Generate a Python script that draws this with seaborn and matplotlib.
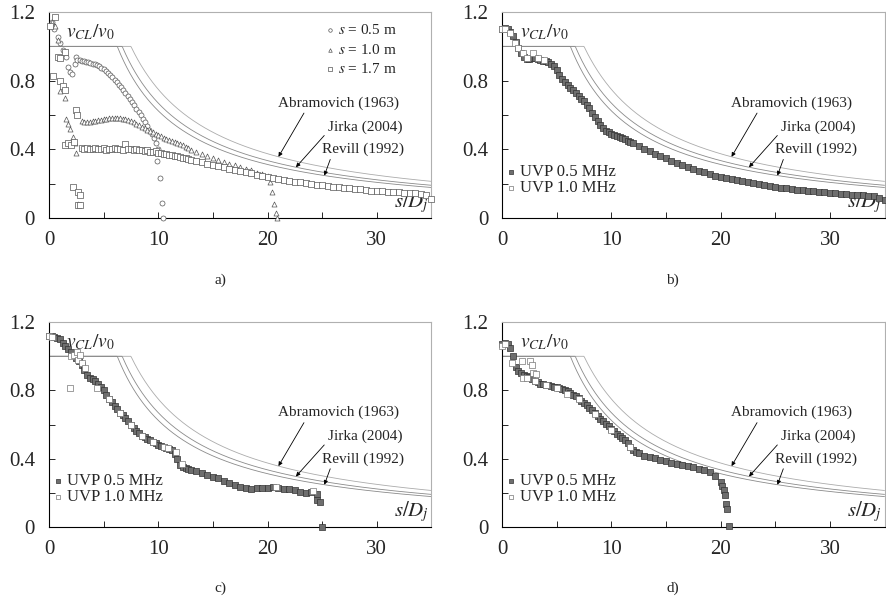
import numpy as np
import matplotlib
matplotlib.use('Agg')
import matplotlib.pyplot as plt
import seaborn as sns

# ---- theory curves (v/v0 = min(1, K / (s/Dj)), K) ----
theory_names = ['Abramovich (1963)', 'Jirka (2004)', 'Revill (1992)']
theory_k = [7.5, 6.7, 6.25]

# ---- panel a: three distances, open markers ----
a05_near_x = [0.25, 0.5, 0.85, 1.0, 1.3, 1.6, 1.77, 1.9, 2.07, 2.4, 2.5]
a05_near_y = [1.14, 1.10, 1.056, 1.017, 0.98, 0.94, 0.88, 0.85, 0.84, 0.90, 0.94]
a05_band_y = [0.92, 0.92, 0.915, 0.912, 0.91, 0.908, 0.905, 0.90, 0.895, 0.89, 0.885,
              0.877, 0.868, 0.857, 0.846, 0.834, 0.82, 0.806, 0.792, 0.778, 0.762,
              0.746, 0.73, 0.713, 0.695, 0.676, 0.657, 0.638, 0.618, 0.598, 0.578,
              0.557, 0.535, 0.512, 0.49, 0.465, 0.44]          # s/Dj 2.6 .. 9.8
a05_tail_x = [9.85, 10.0, 10.15, 10.3, 10.4]
a05_tail_y = [0.33, 0.40, 0.235, 0.09, 0.0]

a10_near_x = [0.3, 0.55, 0.8, 1.0, 1.45, 1.6, 1.75, 1.9, 2.2, 2.4, 2.5, 2.7]
a10_near_y = [1.14, 1.12, 1.04, 0.74, 0.70, 0.58, 0.55, 0.52, 0.47, 0.44, 0.38, 0.08]
a10_dense_y = [0.565, 0.562, 0.56, 0.562, 0.565, 0.568, 0.57, 0.572, 0.575, 0.579,
               0.582, 0.584, 0.585, 0.584, 0.583, 0.58, 0.577, 0.572, 0.566, 0.558,
               0.55, 0.541, 0.532, 0.523, 0.515, 0.507, 0.50, 0.492, 0.484, 0.476,
               0.468, 0.461, 0.455, 0.449, 0.443, 0.437, 0.43, 0.423, 0.415, 0.406,
               0.398]                                         # s/Dj 3.0 .. 13.0
a10_band_y = [0.385, 0.372, 0.36, 0.35, 0.338, 0.327, 0.317, 0.307, 0.297, 0.287,
              0.278, 0.265, 0.255, 0.245]                     # s/Dj 13.5 .. 20.0
a10_tail_x = [20.2, 20.4, 20.6, 20.8, 20.9]
a10_tail_y = [0.21, 0.15, 0.08, 0.03, 0.0]

a17_near_x = [0.1, 0.55, 0.4, 0.85, 1.0, 1.5, 1.0, 1.3, 1.46, 2.5, 2.55, 1.5, 1.77,
              2.0, 2.3, 2.2, 2.7, 2.8, 2.65, 2.85]
a17_near_y = [1.12, 1.17, 0.83, 0.94, 0.93, 0.97, 0.80, 0.77, 0.745, 0.63, 0.60,
              0.425, 0.435, 0.425, 0.445, 0.18, 0.153, 0.135, 0.075, 0.075]
a17_dense_y = [0.41, 0.405, 0.41, 0.40, 0.405, 0.41, 0.40, 0.405, 0.41, 0.398,
               0.405, 0.40, 0.41, 0.402, 0.405, 0.398, 0.43, 0.40, 0.405, 0.398,
               0.40, 0.395, 0.398, 0.39, 0.395, 0.388, 0.385, 0.39, 0.38, 0.378,
               0.375, 0.372, 0.37, 0.366, 0.363, 0.36, 0.356, 0.353, 0.35, 0.344,
               0.338]                                         # s/Dj 3.0 .. 13.0
a17_band_y = [0.332, 0.325, 0.318, 0.31, 0.303, 0.296, 0.289, 0.282, 0.275, 0.268,
              0.261, 0.254, 0.247, 0.24, 0.234, 0.228, 0.223, 0.218, 0.213, 0.208,
              0.203, 0.199, 0.195, 0.191, 0.187, 0.183, 0.179, 0.176, 0.173, 0.17,
              0.167, 0.164, 0.161, 0.158, 0.156, 0.154, 0.152, 0.15, 0.148, 0.146,
              0.144, 0.14, 0.132, 0.11]                       # s/Dj 13.5 .. 35.0

# ---- panel b ----
b05_near_x = [0.0, 0.25]
b05_near_y = [1.10, 1.105]
b05_dense_y = [1.10, 1.085, 1.06, 1.025, 0.99, 0.96, 0.94, 0.925, 0.925, 0.93,
               0.93, 0.926, 0.922, 0.917, 0.912, 0.907, 0.90, 0.885, 0.86, 0.835,
               0.81, 0.792, 0.775, 0.76, 0.745, 0.728, 0.712, 0.696, 0.68, 0.66,
               0.64, 0.615, 0.59, 0.565, 0.54, 0.522, 0.51, 0.50, 0.49, 0.483,
               0.477, 0.472, 0.466, 0.459, 0.452, 0.445, 0.437]   # 0.5 .. 12.0
b05_band_y = [0.422, 0.405, 0.39, 0.375, 0.362, 0.348, 0.335, 0.322, 0.31, 0.298,
              0.287, 0.277, 0.267, 0.256, 0.246, 0.237, 0.232, 0.226, 0.22, 0.214,
              0.208, 0.202, 0.197, 0.192, 0.187, 0.182, 0.177, 0.173, 0.169, 0.165,
              0.162, 0.159, 0.156, 0.153, 0.15, 0.147, 0.144, 0.141, 0.139, 0.137,
              0.135, 0.133, 0.131, 0.128, 0.12, 0.105]            # 12.5 .. 35
b10_x = [0.0, 0.3, 0.7, 1.2, 1.46, 1.9, 2.3, 2.8, 3.3, 3.8]
b10_y = [1.10, 1.10, 1.08, 1.02, 0.99, 0.96, 0.93, 0.96, 0.93, 0.92]

# ---- panel c ----
c05_dense_y = [1.118, 1.118, 1.115, 1.11, 1.10, 1.08, 1.06, 1.045, 1.025, 1.01,
               0.99, 0.97, 0.95, 0.92, 0.89, 0.875, 0.865, 0.853, 0.84, 0.82,
               0.80, 0.775, 0.75, 0.73, 0.71, 0.69, 0.67, 0.655, 0.64, 0.62,
               0.60, 0.582, 0.565, 0.55, 0.535, 0.525, 0.515, 0.507, 0.50, 0.492,
               0.483, 0.476, 0.47, 0.465, 0.46, 0.45, 0.43, 0.40, 0.365, 0.352,
               0.345, 0.34, 0.335]                                 # 0 .. 13.0
c05_band_y = [0.327, 0.318, 0.305, 0.295, 0.285, 0.272, 0.26, 0.245, 0.232, 0.226,
              0.225, 0.226, 0.226, 0.228, 0.232, 0.23, 0.225, 0.222, 0.215, 0.208,
              0.20, 0.205, 0.195]                                  # 13.5 .. 24.5
c05_tail_x = [24.55, 24.8, 25.0]
c05_tail_y = [0.16, 0.145, 0.0]
c10_x = [0.0, 0.3, 1.9, 2.0, 2.3, 2.6, 2.7, 2.8, 3.0, 3.3, 4.4, 5.5, 6.5, 7.5,
         8.5, 9.5, 10.5, 10.9, 11.6, 12.2, 20.8, 24.2]
c10_y = [1.118, 1.115, 0.817, 1.00, 1.01, 1.027, 0.98, 1.01, 0.96, 0.93, 0.817,
         0.75, 0.67, 0.60, 0.535, 0.50, 0.47, 0.464, 0.44, 0.37, 0.235, 0.21]

# ---- panel d ----
d05_dense_y = [1.07, 1.075, 1.07, 1.05, 1.00, 0.94, 0.915, 0.90, 0.893, 0.884,
               0.876, 0.866, 0.856, 0.848, 0.84, 0.836, 0.832, 0.829, 0.826, 0.822,
               0.818, 0.814, 0.81, 0.803, 0.795, 0.785, 0.775, 0.765, 0.755, 0.74,
               0.725, 0.712, 0.70, 0.685, 0.67, 0.652, 0.635, 0.62, 0.605, 0.59,
               0.575, 0.56, 0.546, 0.533, 0.52, 0.507, 0.493, 0.47, 0.45, 0.44,
               0.432]                                              # 0 .. 12.5
d05_band_y = [0.418, 0.41, 0.402, 0.392, 0.384, 0.377, 0.37, 0.362, 0.356, 0.35,
              0.342, 0.332, 0.32, 0.30, 0.265]                     # 13.0 .. 20.0
d05_tail_x = [20.15, 20.3, 20.4, 20.5, 20.6, 20.8]
d05_tail_y = [0.24, 0.215, 0.19, 0.138, 0.103, 0.005]
d10_x = [0.0, 0.3, 0.9, 1.8, 1.95, 2.25, 2.55, 2.7, 2.8, 3.05, 3.15, 4.0, 5.0,
         5.9, 7.0, 8.5, 10.0, 11.7]
d10_y = [1.06, 1.07, 0.96, 0.97, 0.875, 0.875, 0.97, 0.95, 0.90, 0.856, 0.895,
         0.83, 0.815, 0.78, 0.75, 0.665, 0.57, 0.47]


def join(near_x, near_y, segments, tail_x=(), tail_y=()):
    xs, ys = [np.asarray(near_x, float)], [np.asarray(near_y, float)]
    for x0, x1, yy in segments:
        xs.append(np.linspace(x0, x1, len(yy)))
        ys.append(np.asarray(yy, float))
    xs.append(np.asarray(tail_x, float))
    ys.append(np.asarray(tail_y, float))
    return np.concatenate(xs), np.concatenate(ys)


sns.set_style('ticks')
plt.rcParams['font.family'] = 'serif'
plt.rcParams['font.serif'] = ['Liberation Serif', 'DejaVu Serif']
plt.rcParams['mathtext.fontset'] = 'stix'

fig = plt.figure(figsize=(8.87, 6.01), dpi=100)
positions = [[0.0552, 0.637, 0.4312, 0.343], [0.566, 0.637, 0.4312, 0.343],
             [0.0552, 0.123, 0.4312, 0.341], [0.566, 0.123, 0.4312, 0.341]]
axes = [fig.add_axes(p) for p in positions]

label_pos = [(26.5, 0.67), (28.9, 0.53), (28.7, 0.40)]
arrow_x = [21.0, 22.6, 25.2]
arrow_rel = [(0.23, 0.0), (0.0, 0.15), (0.12, 0.0)]
line_colors = ['#ababab', '#8a8a8a', '#8a8a8a']
grid = np.linspace(0.01, 35, 600)


def frame(ax):
    for k, c in zip(theory_k, line_colors):
        sns.lineplot(x=grid, y=np.minimum(1.0, k / grid), ax=ax, color=c, lw=0.6,
                     estimator=None, sort=False, zorder=1)
    for name, k, pos, ax_x, rel in zip(theory_names, theory_k, label_pos, arrow_x, arrow_rel):
        ax.annotate(name, xy=(ax_x, k / ax_x), xytext=pos, ha='center', va='center',
                    fontsize=11,
                    arrowprops=dict(arrowstyle='-|>', color='k', lw=0.6,
                                    mutation_scale=6, shrinkA=0, shrinkB=0, relpos=rel))
    ax.set_xlim(0, 35)
    ax.set_ylim(0, 1.2)
    ax.set_xticks([0, 10, 20, 30])
    ax.set_xticks([5, 15, 25], minor=True)
    ax.set_yticks([0, 0.4, 0.8, 1.2])
    ax.set_yticklabels(['0', '0.4', '0.8', '1.2'])
    ax.set_yticks([0.2, 0.6, 1.0], minor=True)
    ax.tick_params(which='both', direction='in', length=4, width=0.7, labelsize=15)
    ax.tick_params(axis='x', pad=9)
    ax.tick_params(axis='y', pad=10)
    for s in ['left', 'bottom']:
        ax.spines[s].set_color('k')
        ax.spines[s].set_linewidth(0.8)
    for s in ['top', 'right']:
        ax.spines[s].set_visible(True)
        ax.spines[s].set_color('#b0b0b0')
        ax.spines[s].set_linewidth(0.8)
    ax.text(1.6, 1.08, r'$v_{CL}/v_0$', fontsize=14, ha='left', va='center')
    ax.text(34.8, 0.09, r'$s/D_j$', fontsize=15, ha='right', va='center')
    ax.set_xlabel('')
    ax.set_ylabel('')


ms_a = 13
ms_b = 15
# panel a
ax = axes[0]
frame(ax)
x, y = join(a05_near_x, a05_near_y, [(2.6, 9.8, a05_band_y)], a05_tail_x, a05_tail_y)
sns.scatterplot(x=x, y=y, ax=ax, marker='o', s=ms_a, color='white', edgecolor='#555555',
                linewidth=0.5, label='$s$ = 0.5 m', clip_on=False, zorder=3)
x, y = join(a10_near_x, a10_near_y, [(3.0, 13.0, a10_dense_y), (13.5, 20.0, a10_band_y)],
            a10_tail_x, a10_tail_y)
sns.scatterplot(x=x, y=y, ax=ax, marker='^', s=ms_a, color='white', edgecolor='#555555',
                linewidth=0.5, label='$s$ = 1.0 m', clip_on=False, zorder=3)
x, y = join(a17_near_x, a17_near_y, [(3.0, 13.0, a17_dense_y), (13.5, 35.0, a17_band_y)])
sns.scatterplot(x=x, y=y, ax=ax, marker='s', s=ms_a, color='white', edgecolor='#555555',
                linewidth=0.5, label='$s$ = 1.7 m', clip_on=False, zorder=3)
ax.legend(loc='upper right', bbox_to_anchor=(0.925, 0.975), frameon=False, fontsize=11,
          handletextpad=0.3, labelspacing=0.35, markerscale=0.7, borderaxespad=0,
          handlelength=0.5)

# panels b, c, d
uvp = [
    (join(b05_near_x, b05_near_y, [(0.5, 12.0, b05_dense_y), (12.5, 35.0, b05_band_y)]),
     (b10_x, b10_y)),
    (join([], [], [(0.0, 13.0, c05_dense_y), (13.5, 24.5, c05_band_y)], c05_tail_x, c05_tail_y),
     (c10_x, c10_y)),
    (join([], [], [(0.0, 12.5, d05_dense_y), (13.0, 20.0, d05_band_y)], d05_tail_x, d05_tail_y),
     (d10_x, d10_y)),
]
for ax, ((x5, y5), (x1, y1)) in zip(axes[1:], uvp):
    frame(ax)
    sns.scatterplot(x=x5, y=y5, ax=ax, marker='s', s=ms_b, color='#6e6e6e',
                    edgecolor='#333333', linewidth=0.5, label='UVP 0.5 MHz',
                    clip_on=False, zorder=3)
    sns.scatterplot(x=x1, y=y1, ax=ax, marker='s', s=ms_b, color='white',
                    edgecolor='#777777', linewidth=0.5, label='UVP 1.0 MHz',
                    clip_on=False, zorder=4)
    ax.legend(loc='lower left', bbox_to_anchor=(-0.005, 0.075), frameon=False, fontsize=12,
              handletextpad=0.3, labelspacing=0.0, markerscale=0.75, borderaxespad=0,
              handlelength=0.5)

for lbl, fx, fy in [('a)', 0.248, 0.534), ('b)', 0.758, 0.534),
                    ('c)', 0.248, 0.022), ('d)', 0.758, 0.022)]:
    fig.text(fx, fy, lbl, fontsize=11, ha='center', va='center')

fig.savefig('out.png', dpi=100)
